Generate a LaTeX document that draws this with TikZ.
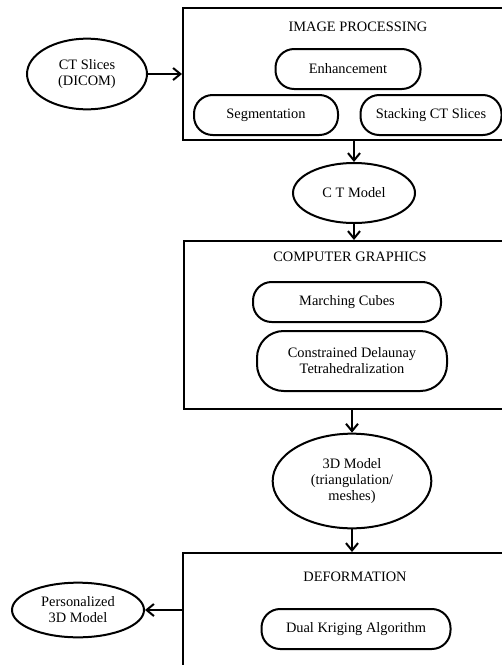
\documentclass[tikz,border=0pt]{standalone}
\usepackage{fontspec}
\setmainfont{Liberation Serif}
\usetikzlibrary{shapes.geometric,arrows.meta}

\begin{document}
\begin{tikzpicture}[
		x=0.75pt, y=-0.75pt,
		every node/.style={font=\fontsize{10.8}{12}\selectfont, align=center},
		panel/.style={draw, line width=1.5pt, anchor=north west, minimum width=247.5pt},
		oval/.style={ellipse, draw, line width=1.5pt, inner sep=0pt},
		pill/.style={rectangle, draw, line width=1.5pt, rounded corners=14pt, inner xsep=2pt, minimum height=30pt},
		arrow/.style={-{Straight Barb[length=5.5pt,width=9pt]}, line width=1.5pt}
		]
		
		% Picture frame (panels run off the right and bottom edge)
		\clip (0,0) rectangle (502,665);
		
		% -------- Panels --------
		\node[panel, minimum height=99pt] (ip) at (182,7) {};
		\node[panel, minimum height=126pt] (cg) at (183,240) {};
		\node[panel, minimum height=96pt] (df) at (182,552) {};
		
		% Panel titles
		\node (iptitle) at (358,27) {IMAGE PROCESSING};
		\node (cgtitle) at (350,257) {COMPUTER GRAPHICS};
		\node (dftitle) at (355,577) {DEFORMATION};
		
		% -------- Steps inside the panels --------
		\node[pill, minimum width=108.75pt] (enh) at (348,69) {Enhancement};
		\node[pill, minimum width=108pt] (seg) at (266,115) {Segmentation};
		\node[pill, minimum width=105.75pt] (stk) at (431,115) {Stacking CT Slices};
		\node[pill, minimum width=141pt] (mc) at (347,302) {Marching Cubes};
		\node[pill, minimum width=142.5pt, minimum height=45pt, rounded corners=20pt] (cdt) at (352,361) {Constrained Delaunay\\Tetrahedralization};
		\node[pill, minimum width=141.75pt] (dk) at (356,629) {Dual Kriging Algorithm};
		
		% -------- Data --------
		\node[oval, minimum width=90pt, minimum height=53pt] (cts) at (87,74) {CT Slices\\(DICOM)};
		\node[oval, minimum width=91.5pt, minimum height=45pt] (ctm) at (354,193) {C T Model};
		\node[oval, minimum width=119pt, minimum height=71pt] (tdm) at (352,481) {3D Model\\(triangulation/\\meshes)};
		\node[oval, minimum width=99pt, minimum height=41pt] (pm) at (78,610) {Personalized\\3D Model};
		
		% ---- Flow ----
		\draw[arrow] (cts.east) -- (cts.east -| ip.west);
		\draw[arrow] (ip.south -| ctm.north) -- (ctm.north);
		\draw[arrow] (ctm.south) -- (ctm.south |- cg.north);
		\draw[arrow] (cg.south -| tdm.north) -- (tdm.north);
		\draw[arrow] (tdm.south) -- (tdm.south |- df.north);
		\draw[arrow] (df.west |- pm.east) -- (pm.east);
		
	\end{tikzpicture}
\end{document}
